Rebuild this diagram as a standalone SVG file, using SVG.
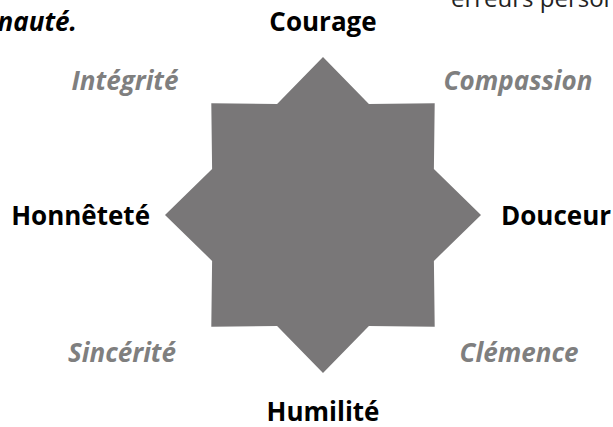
<svg xmlns="http://www.w3.org/2000/svg" width="613" height="427" viewBox="0 0 613 427">
<style>
.b{font-family:"Open Sans","Liberation Sans",sans-serif;font-weight:700;font-size:26px;fill:#000}
.i{font-family:"Open Sans","Liberation Sans",sans-serif;font-weight:700;font-style:italic;font-size:26px;fill:#7f7f7f}
.r{font-family:"Open Sans","Liberation Sans",sans-serif;font-weight:400;font-size:24px;fill:#222}
</style>
<rect width="613" height="427" fill="#fff"/>
<text class="b" x="77" y="31" text-anchor="end" font-style="italic">nauté.</text>
<text class="r" x="451" y="7">erreurs person</text>
<g id="star">
<polygon fill="#797778" points="323,57 368.9,104.1 434.7,103.3 433.9,169.1 481,215 433.9,260.9 434.7,326.7 368.9,325.9 323,373 277.1,325.9 211.3,326.7 212.1,260.9 165,215 212.1,169.1 211.3,103.3 277.1,104.1"/>
</g>
<g id="courage"><text class="b" x="323" y="31" text-anchor="middle">Courage</text></g>
<g id="compassion"><text class="i" x="518" y="90" text-anchor="middle">Compassion</text></g>
<g id="douceur"><text class="b" x="501" y="225">Douceur</text></g>
<g id="clemence"><text class="i" x="519" y="362" text-anchor="middle">Clémence</text></g>
<g id="humilite"><text class="b" x="323" y="421" text-anchor="middle">Humilité</text></g>
<g id="sincerite"><text class="i" x="122" y="362" text-anchor="middle">Sincérité</text></g>
<g id="honnetete"><text class="b" x="150" y="225" text-anchor="end">Honnêteté</text></g>
<g id="integrite"><text class="i" x="125" y="90" text-anchor="middle">Intégrité</text></g>
<g id="connectors"></g>
</svg>
